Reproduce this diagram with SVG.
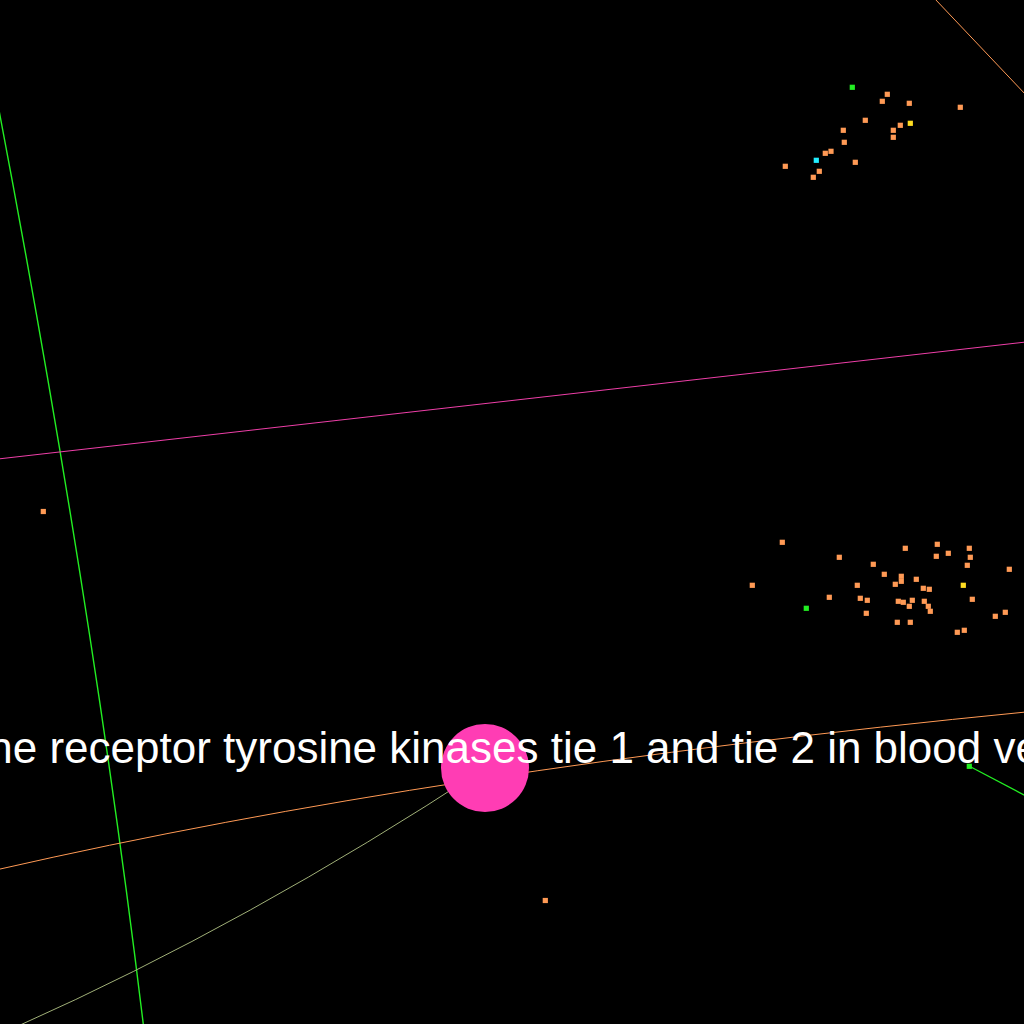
<svg xmlns="http://www.w3.org/2000/svg" width="1024" height="1024" viewBox="0 0 1024 1024">
<style>
.e{fill:none}
.o{fill:#ff9a55}
.y{fill:#ffdd22}
.g{fill:#22ee22}
.c{fill:#22eeff}
.lbl{font-family:"Liberation Sans",Arial,sans-serif;font-size:44px;fill:#ffffff}
</style>
<defs><rect id="d" x="-2.6" y="-2.6" width="5.2" height="5.2"/></defs>
<rect x="0" y="0" width="1024" height="1024" fill="#000000"/>
<g id="connectors">
<path class="e" d="M -2 105 Q 92 599 143.5 1026" stroke="#22ee22" stroke-width="1.4"/>
<path class="e" d="M -2 459 L 1026 342" stroke="#ee3fa8" stroke-width="1"/>
<path class="e" d="M -2 869.5 Q 434 770 1026 712" stroke="#ff9a55" stroke-width="1"/>
<path class="e" d="M 935 -1 L 1026 95" stroke="#ff9a55" stroke-width="1"/>
<path class="e" d="M 485 768 Q 249 923 18 1026" stroke="#a0b078" stroke-width="1"/>
<path class="e" d="M 969 766 L 1026 796" stroke="#22ee22" stroke-width="1.2"/>
</g>
<g id="hub"><circle cx="485" cy="768" r="44" fill="#ff3db4"/></g>
<g id="label"><text class="lbl" x="-24" y="763">the receptor tyrosine kinases tie 1 and tie 2 in blood vessels</text></g>
<g id="n1"><use href="#d" class="g" x="852.3" y="87.3"/></g>
<g id="n2"><use href="#d" class="o" x="887.3" y="94.3"/></g>
<g id="n3"><use href="#d" class="o" x="882.3" y="101.3"/></g>
<g id="n4"><use href="#d" class="o" x="909.3" y="103.3"/></g>
<g id="n5"><use href="#d" class="o" x="960.3" y="107.3"/></g>
<g id="n6"><use href="#d" class="o" x="865.3" y="120.3"/></g>
<g id="n7"><use href="#d" class="y" x="910.3" y="123.3"/></g>
<g id="n8"><use href="#d" class="o" x="843.3" y="130.3"/></g>
<g id="n9"><use href="#d" class="o" x="893.3" y="130.3"/></g>
<g id="n10"><use href="#d" class="o" x="900.3" y="125.3"/></g>
<g id="n11"><use href="#d" class="o" x="893.3" y="137.3"/></g>
<g id="n12"><use href="#d" class="o" x="844.3" y="142.3"/></g>
<g id="n13"><use href="#d" class="o" x="831" y="151.3"/></g>
<g id="n14"><use href="#d" class="o" x="825.3" y="153.3"/></g>
<g id="n15"><use href="#d" class="c" x="816.3" y="160.3"/></g>
<g id="n16"><use href="#d" class="o" x="855.3" y="162.3"/></g>
<g id="n17"><use href="#d" class="o" x="785.3" y="166.3"/></g>
<g id="n18"><use href="#d" class="o" x="819.3" y="171.3"/></g>
<g id="n19"><use href="#d" class="o" x="813.3" y="177.3"/></g>
<g id="m1"><use href="#d" class="o" x="782.3" y="542.3"/></g>
<g id="m2"><use href="#d" class="o" x="937.3" y="544.3"/></g>
<g id="m3"><use href="#d" class="o" x="905.3" y="548.3"/></g>
<g id="m4"><use href="#d" class="o" x="969.3" y="548.3"/></g>
<g id="m5"><use href="#d" class="o" x="936.3" y="556.3"/></g>
<g id="m6"><use href="#d" class="o" x="948.3" y="553.3"/></g>
<g id="m7"><use href="#d" class="o" x="970.3" y="557.3"/></g>
<g id="m8"><use href="#d" class="o" x="839.3" y="557.3"/></g>
<g id="m9"><use href="#d" class="o" x="873.3" y="564.3"/></g>
<g id="m10"><use href="#d" class="o" x="967.3" y="565.3"/></g>
<g id="m11"><use href="#d" class="o" x="1009.3" y="569.3"/></g>
<g id="m12"><use href="#d" class="o" x="884.3" y="574.3"/></g>
<g id="m13"><use href="#d" class="o" x="901.3" y="576.3"/></g>
<g id="m14"><use href="#d" class="o" x="901.3" y="581.3"/></g>
<g id="m15"><use href="#d" class="o" x="916.3" y="579.3"/></g>
<g id="m16"><use href="#d" class="o" x="895.3" y="584.3"/></g>
<g id="m17"><use href="#d" class="o" x="857.3" y="585.3"/></g>
<g id="m18"><use href="#d" class="o" x="752.3" y="585.3"/></g>
<g id="m19"><use href="#d" class="o" x="923.3" y="588.3"/></g>
<g id="m20"><use href="#d" class="o" x="929.3" y="589.3"/></g>
<g id="m21"><use href="#d" class="y" x="963.3" y="585.3"/></g>
<g id="m22"><use href="#d" class="o" x="829.3" y="597.3"/></g>
<g id="m23"><use href="#d" class="o" x="860.3" y="598.3"/></g>
<g id="m24"><use href="#d" class="o" x="867.3" y="600.3"/></g>
<g id="m25"><use href="#d" class="o" x="972.3" y="599.3"/></g>
<g id="m26"><use href="#d" class="o" x="898.3" y="601.3"/></g>
<g id="m27"><use href="#d" class="o" x="903.3" y="602.3"/></g>
<g id="m28"><use href="#d" class="o" x="912.3" y="600.3"/></g>
<g id="m29"><use href="#d" class="o" x="924.3" y="601.3"/></g>
<g id="m30"><use href="#d" class="g" x="806.3" y="608.3"/></g>
<g id="m31"><use href="#d" class="o" x="909.3" y="606.3"/></g>
<g id="m32"><use href="#d" class="o" x="928.3" y="606.3"/></g>
<g id="m33"><use href="#d" class="o" x="930.3" y="611.3"/></g>
<g id="m34"><use href="#d" class="o" x="866.3" y="613.3"/></g>
<g id="m35"><use href="#d" class="o" x="1005.3" y="612.3"/></g>
<g id="m36"><use href="#d" class="o" x="995.3" y="616.3"/></g>
<g id="m37"><use href="#d" class="o" x="897.3" y="622.3"/></g>
<g id="m38"><use href="#d" class="o" x="910.3" y="622.3"/></g>
<g id="m39"><use href="#d" class="o" x="964.3" y="630.3"/></g>
<g id="m40"><use href="#d" class="o" x="957.3" y="632.3"/></g>
<g id="s1"><use href="#d" class="o" x="43.3" y="511.5"/></g>
<g id="s2"><use href="#d" class="o" x="545.3" y="900.5"/></g>
<g id="s3"><use href="#d" class="g" x="969.3" y="766.3"/></g>
</svg>
